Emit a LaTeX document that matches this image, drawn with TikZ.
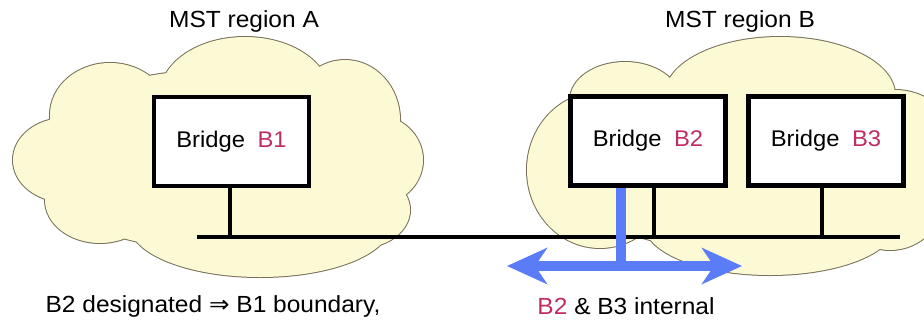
\documentclass[tikz,border=0pt]{standalone}
\usepackage{fontspec}
\setmainfont{Liberation Sans}[FakeStretch=1.05]
\newfontfamily\symfont{DejaVu Sans}[FakeStretch=1.05]
\usetikzlibrary{arrows.meta}
\definecolor{cloudfill}{RGB}{252,250,212}
\definecolor{cloudline}{RGB}{120,112,90}
\definecolor{accent}{RGB}{192,44,100}
\definecolor{linkblue}{RGB}{90,124,246}
\begin{document}
\begin{tikzpicture}[x=0.75pt,y=-0.75pt,
  bridge/.style={draw=black, line width=3.6pt, fill=white, minimum width=116.25pt,
    minimum height=66.75pt, inner sep=0pt, font=\fontsize{17}{20}\selectfont},
  txt/.style={font=\fontsize{17.5}{21}\selectfont, inner sep=0pt},
  wire/.style={line width=2.8pt},
  cloudedge/.style={draw=cloudline, line width=1.5pt},
  link/.style={draw=linkblue, line width=8.2pt},
  bigtip/.tip={Stealth[length=30pt, width=27pt, inset=9pt]}
]
\useasboundingbox (0,0) rectangle (924,322);

% cloud A (union of lobes)
\def\cloudA{(215,160) ellipse [x radius=185, y radius=90]
  (110,115) ellipse [x radius=60, y radius=52]
  (245,95) ellipse [x radius=85, y radius=58]
  (345,120) ellipse [x radius=55, y radius=60]
  (375,160) ellipse [x radius=48, y radius=45]
  (360,210) ellipse [x radius=50, y radius=38]
  (260,225) ellipse [x radius=130, y radius=52]
  (100,200) ellipse [x radius=55, y radius=43]
  (65,160) ellipse [x radius=52, y radius=42]}
% cloud B
\def\cloudB{(735,165) ellipse [x radius=180, y radius=85]
  (625,100) ellipse [x radius=55, y radius=38]
  (780,95) ellipse [x radius=115, y radius=58]
  (600,170) ellipse [x radius=73, y radius=78]
  (770,225) ellipse [x radius=125, y radius=50]
  (890,195) ellipse [x radius=55, y radius=55]
  (895,155) ellipse [x radius=65, y radius=65]}
\draw[cloudedge] \cloudA;
\draw[cloudedge] \cloudB;
\fill[cloudfill] \cloudA;
\fill[cloudfill] \cloudB;

% region titles
\node[txt] (tA) at (244,21) {MST region A};
\node[txt] (tB) at (740,21) {MST region B};

% bus
\coordinate (busL) at (197,237);
\coordinate (busR) at (900,237);
\coordinate (t1) at (230,237);
\coordinate (t2) at (654,237);
\coordinate (t3) at (822,237);
\draw[wire] (busL) -- (busR);

% bridges
\node[bridge] (b1) at (231.5,141.5) {Bridge\hspace{0.55em}\textcolor{accent}{B1}};
\node[bridge] (b2) at (648,141) {Bridge\hspace{0.55em}\textcolor{accent}{B2}};
\node[bridge] (b3) at (826,141) {Bridge\hspace{0.55em}\textcolor{accent}{B3}};

\draw[wire] (b1.south -| t1) -- (t1);
\draw[wire] (b2.south -| t2) -- (t2);
\draw[wire] (b3.south -| t3) -- (t3);

% blue internal link
\coordinate (al) at (507,266);
\coordinate (ar) at (742,266);
\coordinate (tj) at (621,266);
\draw[link] (tj |- b2.south) -- (tj);
\draw[link, bigtip-bigtip] (al) -- (ar);

% captions
\node[txt] (capA) at (213,306) {B2 designated {\symfont ⇒} B1 boundary,};
\node[txt] (capB) at (626,306) {\textcolor{accent}{B2} \& B3 internal};
\end{tikzpicture}
\end{document}
